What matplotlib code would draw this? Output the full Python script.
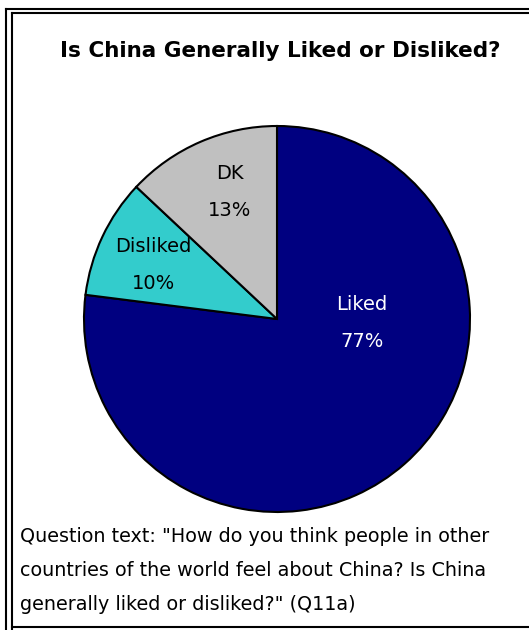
import numpy as np
import matplotlib.pyplot as plt
from matplotlib.lines import Line2D

W, H = 529, 630

labels = ['Liked', 'Disliked', 'DK']
values = [77, 10, 13]
colors = ['#000080', '#33CCCC', '#C0C0C0']
text_colors = ['white', 'black', 'black']
title = 'Is China Generally Liked or Disliked?'
note = ['Question text: "How do you think people in other',
        'countries of the world feel about China? Is China',
        'generally liked or disliked?" (Q11a)']

plt.rcParams['font.family'] = ['DejaVu Sans']
fig = plt.figure(figsize=(W / 100, H / 100), dpi=100)
fig.patch.set_facecolor('white')


def fx(x):
    return x / W


def fy(y):
    return 1 - y / H


# pie axes: centre (277, 319) px, radius 193 px
cx, cy, r = 277, 319, 193
ax = fig.add_axes([fx(cx - r), fy(cy + r), 2 * r / W, 2 * r / H])
wedges, _ = ax.pie(values, colors=colors, startangle=90, counterclock=False,
                   radius=1, wedgeprops=dict(edgecolor='black', linewidth=1.5))
ax.set_xlim(-1, 1)
ax.set_ylim(-1, 1)
ax.set_aspect('equal')
ax.axis('off')

# label positions (fraction of radius, angle in degrees) like Excel places them
label_pos = [(0.44, -2.7), (0.70, 156.5), (0.70, 110.5)]
dy = 0.096
for lab, v, c, (rr, ang) in zip(labels, values, text_colors, label_pos):
    x = rr * np.cos(np.radians(ang))
    y = rr * np.sin(np.radians(ang))
    ax.text(x, y + dy, lab, ha='center', va='center', color=c, fontsize=14)
    ax.text(x, y - dy, f'{v}%', ha='center', va='center', color=c, fontsize=14)

fig.text(fx(280), fy(51), title, ha='center', va='center',
         fontsize=15.5, fontweight='bold')

for i, line in enumerate(note):
    fig.text(fx(20), fy(542 + 34 * i), line, ha='left', va='baseline',
             fontsize=13.8)

# double frame (cut off on right and bottom)
lw = 1.5
for x0, y0 in [(6, 9), (12, 13)]:
    fig.add_artist(Line2D([fx(x0), 1], [fy(y0), fy(y0)], color='black', lw=lw))
    fig.add_artist(Line2D([fx(x0), fx(x0)], [fy(y0), 0], color='black', lw=lw))
fig.add_artist(Line2D([fx(12), 1], [fy(627), fy(627)], color='black', lw=lw))

fig.savefig('out.png', dpi=100, facecolor='white')
